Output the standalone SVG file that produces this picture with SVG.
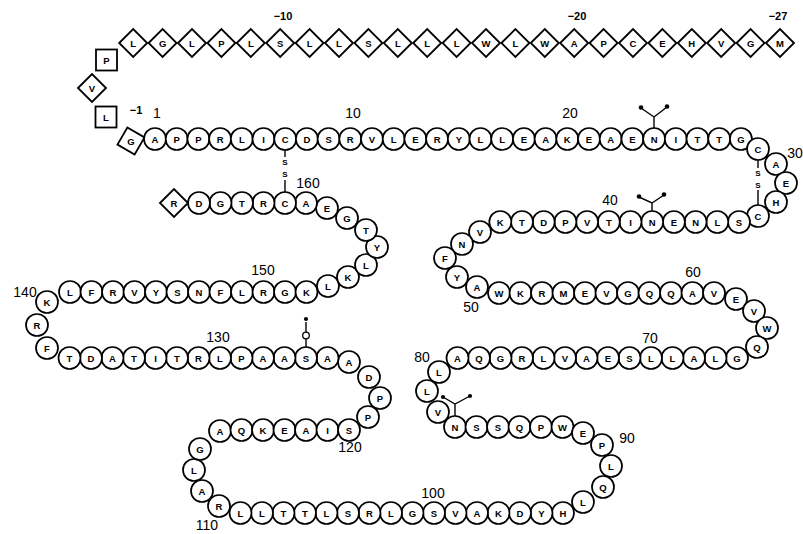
<svg xmlns="http://www.w3.org/2000/svg" xmlns:xlink="http://www.w3.org/1999/xlink" width="803" height="534" viewBox="0 0 803 534">
<style>
.c{fill:#fff;stroke:#000;stroke-width:1.7}
.dm{fill:#fff;stroke:#000;stroke-width:1.8}
.t{font-family:"Liberation Sans",Arial,sans-serif;font-size:9.5px;font-weight:bold;text-anchor:middle;dominant-baseline:central;fill:#000}
.ss{font-family:"Liberation Sans",Arial,sans-serif;font-size:8px;font-weight:bold;text-anchor:middle;dominant-baseline:central;fill:#000}
.n{font-family:"Liberation Sans",Arial,sans-serif;font-size:14px;text-anchor:middle;fill:#000}
.sn{font-family:"Liberation Sans",Arial,sans-serif;font-size:11px;font-weight:bold;text-anchor:middle;fill:#000}
.ln{stroke:#000;stroke-width:1.4;fill:none}
.dot{fill:#000}
</style>
<defs>
<path id="dia" class="dm" d="M-14,0 L0,-14 L14,0 L0,14 Z"/>
<rect id="box" class="dm" x="-10.5" y="-10.5" width="21" height="21"/>
</defs>
<rect width="803" height="534" fill="#fff"/>

<g id="connectors">
<line class="ln" x1="285" y1="150" x2="285" y2="157"/>
<text class="ss" x="285" y="162.5">S</text>
<text class="ss" x="285" y="174.5">S</text>
<line class="ln" x1="285" y1="180" x2="285" y2="192"/>
<line class="ln" x1="758" y1="160" x2="758" y2="168" stroke-width="1"/>
<text class="ss" x="758" y="173">S</text>
<text class="ss" x="758" y="185">S</text>
<line class="ln" x1="758" y1="190" x2="758" y2="205" stroke-width="1"/>
<path class="ln" d="M654,128 V117 M641,108 L654,117 L667,107"/>
<circle class="dot" cx="641" cy="107.5" r="2.3"/><circle class="dot" cx="667" cy="106.5" r="2.3"/>
<path class="ln" d="M652,211 V203 M639,197 L652,203 L664,195"/>
<circle class="dot" cx="639" cy="196.5" r="2.3"/><circle class="dot" cx="664" cy="194.5" r="2.3"/>
<path class="ln" d="M455,416 V404 M443,397 L455,404 L470,396"/>
<circle class="dot" cx="443" cy="397" r="2.1"/><circle class="dot" cx="470" cy="396" r="2.1"/>
<path class="ln" d="M306,347 V339 M306,332 V322"/>
<circle cx="306" cy="335.5" r="3.3" fill="#fff" stroke="#000" stroke-width="1.3"/>
<circle class="dot" cx="306" cy="319" r="2.1"/>
</g>

<g id="labels">
<text class="sn" x="283" y="20">−10</text>
<text class="sn" x="577" y="20">−20</text>
<text class="sn" x="778" y="20">−27</text>
<text class="sn" x="136" y="114" font-size="12">−1</text>
<text class="n" x="157" y="118">1</text>
<text class="n" x="353" y="118">10</text>
<text class="n" x="570" y="118">20</text>
<text class="n" x="795" y="158">30</text>
<text class="n" x="610" y="205">40</text>
<text class="n" x="471" y="312">50</text>
<text class="n" x="693" y="277">60</text>
<text class="n" x="650" y="343">70</text>
<text class="n" x="422" y="362">80</text>
<text class="n" x="627" y="443">90</text>
<text class="n" x="433" y="498">100</text>
<text class="n" x="207" y="530">110</text>
<text class="n" x="350" y="452">120</text>
<text class="n" x="218" y="342">130</text>
<text class="n" x="25" y="297">140</text>
<text class="n" x="263" y="275">150</text>
<text class="n" x="308" y="188">160</text>
</g>

<g id="signal">
<g id="s27"><use xlink:href="#dia" x="780" y="43"/><text class="t" x="780" y="43">M</text></g>
<g id="s26"><use xlink:href="#dia" x="750.6" y="43"/><text class="t" x="750.6" y="43">G</text></g>
<g id="s25"><use xlink:href="#dia" x="721.2" y="43"/><text class="t" x="721.2" y="43">V</text></g>
<g id="s24"><use xlink:href="#dia" x="691.8" y="43"/><text class="t" x="691.8" y="43">H</text></g>
<g id="s23"><use xlink:href="#dia" x="662.4" y="43"/><text class="t" x="662.4" y="43">E</text></g>
<g id="s22"><use xlink:href="#dia" x="633" y="43"/><text class="t" x="633" y="43">C</text></g>
<g id="s21"><use xlink:href="#dia" x="603.6" y="43"/><text class="t" x="603.6" y="43">P</text></g>
<g id="s20"><use xlink:href="#dia" x="574.2" y="43"/><text class="t" x="574.2" y="43">A</text></g>
<g id="s19"><use xlink:href="#dia" x="544.8" y="43"/><text class="t" x="544.8" y="43">W</text></g>
<g id="s18"><use xlink:href="#dia" x="515.4" y="43"/><text class="t" x="515.4" y="43">L</text></g>
<g id="s17"><use xlink:href="#dia" x="486" y="43"/><text class="t" x="486" y="43">W</text></g>
<g id="s16"><use xlink:href="#dia" x="456.6" y="43"/><text class="t" x="456.6" y="43">L</text></g>
<g id="s15"><use xlink:href="#dia" x="427.2" y="43"/><text class="t" x="427.2" y="43">L</text></g>
<g id="s14"><use xlink:href="#dia" x="397.8" y="43"/><text class="t" x="397.8" y="43">L</text></g>
<g id="s13"><use xlink:href="#dia" x="368.4" y="43"/><text class="t" x="368.4" y="43">S</text></g>
<g id="s12"><use xlink:href="#dia" x="339" y="43"/><text class="t" x="339" y="43">L</text></g>
<g id="s11"><use xlink:href="#dia" x="309.6" y="43"/><text class="t" x="309.6" y="43">L</text></g>
<g id="s10"><use xlink:href="#dia" x="280.2" y="43"/><text class="t" x="280.2" y="43">S</text></g>
<g id="s9"><use xlink:href="#dia" x="250.8" y="43"/><text class="t" x="250.8" y="43">L</text></g>
<g id="s8"><use xlink:href="#dia" x="221.4" y="43"/><text class="t" x="221.4" y="43">P</text></g>
<g id="s7"><use xlink:href="#dia" x="192" y="43"/><text class="t" x="192" y="43">L</text></g>
<g id="s6"><use xlink:href="#dia" x="162.6" y="43"/><text class="t" x="162.6" y="43">G</text></g>
<g id="s5"><use xlink:href="#dia" x="133.2" y="43"/><text class="t" x="133.2" y="43">L</text></g>
<g id="s4"><use xlink:href="#box" x="106.5" y="60"/><text class="t" x="106.5" y="60">P</text></g>
<g id="s3"><use xlink:href="#dia" x="92" y="88"/><text class="t" x="92" y="88">V</text></g>
<g id="s2"><use xlink:href="#box" x="106" y="117"/><text class="t" x="106" y="117">L</text></g>
<g id="s1"><path class="dm" d="M0,-14 L14,0 L0,14 L-14,0 Z" transform="translate(131,141) rotate(-15)"/><text class="t" x="131" y="141">G</text></g>
</g>

<g id="mature">
<g id="r1"><circle class="c" cx="155" cy="139" r="11"/><text class="t" x="155" y="139">A</text></g>
<g id="r2"><circle class="c" cx="176.7" cy="139" r="11"/><text class="t" x="176.7" y="139">P</text></g>
<g id="r3"><circle class="c" cx="198.4" cy="139" r="11"/><text class="t" x="198.4" y="139">P</text></g>
<g id="r4"><circle class="c" cx="220.1" cy="139" r="11"/><text class="t" x="220.1" y="139">R</text></g>
<g id="r5"><circle class="c" cx="241.8" cy="139" r="11"/><text class="t" x="241.8" y="139">L</text></g>
<g id="r6"><circle class="c" cx="263.5" cy="139" r="11"/><text class="t" x="263.5" y="139">I</text></g>
<g id="r7"><circle class="c" cx="285.2" cy="139" r="11"/><text class="t" x="285.2" y="139">C</text></g>
<g id="r8"><circle class="c" cx="306.9" cy="139" r="11"/><text class="t" x="306.9" y="139">D</text></g>
<g id="r9"><circle class="c" cx="328.6" cy="139" r="11"/><text class="t" x="328.6" y="139">S</text></g>
<g id="r10"><circle class="c" cx="350.3" cy="139" r="11"/><text class="t" x="350.3" y="139">R</text></g>
<g id="r11"><circle class="c" cx="372" cy="139" r="11"/><text class="t" x="372" y="139">V</text></g>
<g id="r12"><circle class="c" cx="393.7" cy="139" r="11"/><text class="t" x="393.7" y="139">L</text></g>
<g id="r13"><circle class="c" cx="415.4" cy="139" r="11"/><text class="t" x="415.4" y="139">E</text></g>
<g id="r14"><circle class="c" cx="437.1" cy="139" r="11"/><text class="t" x="437.1" y="139">R</text></g>
<g id="r15"><circle class="c" cx="458.8" cy="139" r="11"/><text class="t" x="458.8" y="139">Y</text></g>
<g id="r16"><circle class="c" cx="480.5" cy="139" r="11"/><text class="t" x="480.5" y="139">L</text></g>
<g id="r17"><circle class="c" cx="502.2" cy="139" r="11"/><text class="t" x="502.2" y="139">L</text></g>
<g id="r18"><circle class="c" cx="523.9" cy="139" r="11"/><text class="t" x="523.9" y="139">E</text></g>
<g id="r19"><circle class="c" cx="545.6" cy="139" r="11"/><text class="t" x="545.6" y="139">A</text></g>
<g id="r20"><circle class="c" cx="567.3" cy="139" r="11"/><text class="t" x="567.3" y="139">K</text></g>
<g id="r21"><circle class="c" cx="589" cy="139" r="11"/><text class="t" x="589" y="139">E</text></g>
<g id="r22"><circle class="c" cx="610.7" cy="139" r="11"/><text class="t" x="610.7" y="139">A</text></g>
<g id="r23"><circle class="c" cx="632.4" cy="139" r="11"/><text class="t" x="632.4" y="139">E</text></g>
<g id="r24"><circle class="c" cx="654.1" cy="139" r="11"/><text class="t" x="654.1" y="139">N</text></g>
<g id="r25"><circle class="c" cx="675.8" cy="139" r="11"/><text class="t" x="675.8" y="139">I</text></g>
<g id="r26"><circle class="c" cx="697.5" cy="139" r="11"/><text class="t" x="697.5" y="139">T</text></g>
<g id="r27"><circle class="c" cx="719.2" cy="139" r="11"/><text class="t" x="719.2" y="139">T</text></g>
<g id="r28"><circle class="c" cx="740.9" cy="139" r="11"/><text class="t" x="740.9" y="139">G</text></g>
<g id="r29"><circle class="c" cx="758" cy="149" r="11"/><text class="t" x="758" y="149">C</text></g>
<g id="r30"><circle class="c" cx="776" cy="164" r="11"/><text class="t" x="776" y="164">A</text></g>
<g id="r31"><circle class="c" cx="786" cy="183" r="11"/><text class="t" x="786" y="183">E</text></g>
<g id="r32"><circle class="c" cx="776" cy="202" r="11"/><text class="t" x="776" y="202">H</text></g>
<g id="r33"><circle class="c" cx="758" cy="216" r="11"/><text class="t" x="758" y="216">C</text></g>
<g id="r34"><circle class="c" cx="739" cy="222" r="11"/><text class="t" x="739" y="222">S</text></g>
<g id="r35"><circle class="c" cx="717.3" cy="222" r="11"/><text class="t" x="717.3" y="222">L</text></g>
<g id="r36"><circle class="c" cx="695.6" cy="222" r="11"/><text class="t" x="695.6" y="222">N</text></g>
<g id="r37"><circle class="c" cx="673.9" cy="222" r="11"/><text class="t" x="673.9" y="222">E</text></g>
<g id="r38"><circle class="c" cx="652.2" cy="222" r="11"/><text class="t" x="652.2" y="222">N</text></g>
<g id="r39"><circle class="c" cx="630.5" cy="222" r="11"/><text class="t" x="630.5" y="222">I</text></g>
<g id="r40"><circle class="c" cx="608.8" cy="222" r="11"/><text class="t" x="608.8" y="222">T</text></g>
<g id="r41"><circle class="c" cx="587.1" cy="222" r="11"/><text class="t" x="587.1" y="222">V</text></g>
<g id="r42"><circle class="c" cx="565.4" cy="222" r="11"/><text class="t" x="565.4" y="222">P</text></g>
<g id="r43"><circle class="c" cx="543.7" cy="222" r="11"/><text class="t" x="543.7" y="222">D</text></g>
<g id="r44"><circle class="c" cx="522" cy="222" r="11"/><text class="t" x="522" y="222">T</text></g>
<g id="r45"><circle class="c" cx="500.3" cy="222" r="11"/><text class="t" x="500.3" y="222">K</text></g>
<g id="r46"><circle class="c" cx="480" cy="232" r="11"/><text class="t" x="480" y="232">V</text></g>
<g id="r47"><circle class="c" cx="462" cy="244" r="11"/><text class="t" x="462" y="244">N</text></g>
<g id="r48"><circle class="c" cx="445" cy="258" r="11"/><text class="t" x="445" y="258">F</text></g>
<g id="r49"><circle class="c" cx="457" cy="277" r="11"/><text class="t" x="457" y="277">Y</text></g>
<g id="r50"><circle class="c" cx="477" cy="287" r="11"/><text class="t" x="477" y="287">A</text></g>
<g id="r51"><circle class="c" cx="499" cy="293" r="11"/><text class="t" x="499" y="293">W</text></g>
<g id="r52"><circle class="c" cx="520.5" cy="293" r="11"/><text class="t" x="520.5" y="293">K</text></g>
<g id="r53"><circle class="c" cx="542" cy="293" r="11"/><text class="t" x="542" y="293">R</text></g>
<g id="r54"><circle class="c" cx="563.5" cy="293" r="11"/><text class="t" x="563.5" y="293">M</text></g>
<g id="r55"><circle class="c" cx="585" cy="293" r="11"/><text class="t" x="585" y="293">E</text></g>
<g id="r56"><circle class="c" cx="606.5" cy="293" r="11"/><text class="t" x="606.5" y="293">V</text></g>
<g id="r57"><circle class="c" cx="628" cy="293" r="11"/><text class="t" x="628" y="293">G</text></g>
<g id="r58"><circle class="c" cx="649.5" cy="293" r="11"/><text class="t" x="649.5" y="293">Q</text></g>
<g id="r59"><circle class="c" cx="671" cy="293" r="11"/><text class="t" x="671" y="293">Q</text></g>
<g id="r60"><circle class="c" cx="692.5" cy="293" r="11"/><text class="t" x="692.5" y="293">A</text></g>
<g id="r61"><circle class="c" cx="714" cy="293" r="11"/><text class="t" x="714" y="293">V</text></g>
<g id="r62"><circle class="c" cx="736" cy="299" r="11"/><text class="t" x="736" y="299">E</text></g>
<g id="r63"><circle class="c" cx="754" cy="311" r="11"/><text class="t" x="754" y="311">V</text></g>
<g id="r64"><circle class="c" cx="767" cy="328" r="11"/><text class="t" x="767" y="328">W</text></g>
<g id="r65"><circle class="c" cx="757" cy="347" r="11"/><text class="t" x="757" y="347">Q</text></g>
<g id="r66"><circle class="c" cx="737" cy="358" r="11"/><text class="t" x="737" y="358">G</text></g>
<g id="r67"><circle class="c" cx="715.5" cy="358" r="11"/><text class="t" x="715.5" y="358">L</text></g>
<g id="r68"><circle class="c" cx="694" cy="358" r="11"/><text class="t" x="694" y="358">A</text></g>
<g id="r69"><circle class="c" cx="672.5" cy="358" r="11"/><text class="t" x="672.5" y="358">L</text></g>
<g id="r70"><circle class="c" cx="651" cy="358" r="11"/><text class="t" x="651" y="358">L</text></g>
<g id="r71"><circle class="c" cx="629.5" cy="358" r="11"/><text class="t" x="629.5" y="358">S</text></g>
<g id="r72"><circle class="c" cx="608" cy="358" r="11"/><text class="t" x="608" y="358">E</text></g>
<g id="r73"><circle class="c" cx="586.5" cy="358" r="11"/><text class="t" x="586.5" y="358">A</text></g>
<g id="r74"><circle class="c" cx="565" cy="358" r="11"/><text class="t" x="565" y="358">V</text></g>
<g id="r75"><circle class="c" cx="543.5" cy="358" r="11"/><text class="t" x="543.5" y="358">L</text></g>
<g id="r76"><circle class="c" cx="522" cy="358" r="11"/><text class="t" x="522" y="358">R</text></g>
<g id="r77"><circle class="c" cx="500.5" cy="358" r="11"/><text class="t" x="500.5" y="358">G</text></g>
<g id="r78"><circle class="c" cx="479" cy="358" r="11"/><text class="t" x="479" y="358">Q</text></g>
<g id="r79"><circle class="c" cx="457.5" cy="358" r="11"/><text class="t" x="457.5" y="358">A</text></g>
<g id="r80"><circle class="c" cx="439" cy="372" r="11"/><text class="t" x="439" y="372">L</text></g>
<g id="r81"><circle class="c" cx="427" cy="391" r="11"/><text class="t" x="427" y="391">L</text></g>
<g id="r82"><circle class="c" cx="438" cy="412" r="11"/><text class="t" x="438" y="412">V</text></g>
<g id="r83"><circle class="c" cx="455" cy="427" r="11"/><text class="t" x="455" y="427">N</text></g>
<g id="r84"><circle class="c" cx="476.5" cy="427" r="11"/><text class="t" x="476.5" y="427">S</text></g>
<g id="r85"><circle class="c" cx="498" cy="427" r="11"/><text class="t" x="498" y="427">S</text></g>
<g id="r86"><circle class="c" cx="519.5" cy="427" r="11"/><text class="t" x="519.5" y="427">Q</text></g>
<g id="r87"><circle class="c" cx="541" cy="427" r="11"/><text class="t" x="541" y="427">P</text></g>
<g id="r88"><circle class="c" cx="562.5" cy="427" r="11"/><text class="t" x="562.5" y="427">W</text></g>
<g id="r89"><circle class="c" cx="583" cy="433" r="11"/><text class="t" x="583" y="433">E</text></g>
<g id="r90"><circle class="c" cx="602" cy="445" r="11"/><text class="t" x="602" y="445">P</text></g>
<g id="r91"><circle class="c" cx="611" cy="466" r="11"/><text class="t" x="611" y="466">L</text></g>
<g id="r92"><circle class="c" cx="603" cy="487" r="11"/><text class="t" x="603" y="487">Q</text></g>
<g id="r93"><circle class="c" cx="583" cy="502" r="11"/><text class="t" x="583" y="502">L</text></g>
<g id="r94"><circle class="c" cx="563" cy="513" r="11"/><text class="t" x="563" y="513">H</text></g>
<g id="r95"><circle class="c" cx="541.5" cy="513" r="11"/><text class="t" x="541.5" y="513">Y</text></g>
<g id="r96"><circle class="c" cx="520" cy="513" r="11"/><text class="t" x="520" y="513">D</text></g>
<g id="r97"><circle class="c" cx="498.5" cy="513" r="11"/><text class="t" x="498.5" y="513">K</text></g>
<g id="r98"><circle class="c" cx="477" cy="513" r="11"/><text class="t" x="477" y="513">A</text></g>
<g id="r99"><circle class="c" cx="455.5" cy="513" r="11"/><text class="t" x="455.5" y="513">V</text></g>
<g id="r100"><circle class="c" cx="434" cy="513" r="11"/><text class="t" x="434" y="513">S</text></g>
<g id="r101"><circle class="c" cx="412.5" cy="513" r="11"/><text class="t" x="412.5" y="513">G</text></g>
<g id="r102"><circle class="c" cx="391" cy="513" r="11"/><text class="t" x="391" y="513">L</text></g>
<g id="r103"><circle class="c" cx="369.5" cy="513" r="11"/><text class="t" x="369.5" y="513">R</text></g>
<g id="r104"><circle class="c" cx="348" cy="513" r="11"/><text class="t" x="348" y="513">S</text></g>
<g id="r105"><circle class="c" cx="326.5" cy="513" r="11"/><text class="t" x="326.5" y="513">L</text></g>
<g id="r106"><circle class="c" cx="305" cy="513" r="11"/><text class="t" x="305" y="513">T</text></g>
<g id="r107"><circle class="c" cx="283.5" cy="513" r="11"/><text class="t" x="283.5" y="513">T</text></g>
<g id="r108"><circle class="c" cx="262" cy="513" r="11"/><text class="t" x="262" y="513">L</text></g>
<g id="r109"><circle class="c" cx="240.5" cy="513" r="11"/><text class="t" x="240.5" y="513">L</text></g>
<g id="r110"><circle class="c" cx="219" cy="506" r="11"/><text class="t" x="219" y="506">R</text></g>
<g id="r111"><circle class="c" cx="202" cy="491" r="11"/><text class="t" x="202" y="491">A</text></g>
<g id="r112"><circle class="c" cx="194" cy="470" r="11"/><text class="t" x="194" y="470">L</text></g>
<g id="r113"><circle class="c" cx="200" cy="449" r="11"/><text class="t" x="200" y="449">G</text></g>
<g id="r114"><circle class="c" cx="220" cy="431" r="11"/><text class="t" x="220" y="431">A</text></g>
<g id="r115"><circle class="c" cx="241.5" cy="430" r="11"/><text class="t" x="241.5" y="430">Q</text></g>
<g id="r116"><circle class="c" cx="263" cy="430" r="11"/><text class="t" x="263" y="430">K</text></g>
<g id="r117"><circle class="c" cx="284.5" cy="430" r="11"/><text class="t" x="284.5" y="430">E</text></g>
<g id="r118"><circle class="c" cx="306" cy="430" r="11"/><text class="t" x="306" y="430">A</text></g>
<g id="r119"><circle class="c" cx="327.5" cy="430" r="11"/><text class="t" x="327.5" y="430">I</text></g>
<g id="r120"><circle class="c" cx="349" cy="430" r="11"/><text class="t" x="349" y="430">S</text></g>
<g id="r121"><circle class="c" cx="368" cy="417" r="11"/><text class="t" x="368" y="417">P</text></g>
<g id="r122"><circle class="c" cx="380" cy="398" r="11"/><text class="t" x="380" y="398">P</text></g>
<g id="r123"><circle class="c" cx="369" cy="377" r="11"/><text class="t" x="369" y="377">D</text></g>
<g id="r124"><circle class="c" cx="349" cy="362" r="11"/><text class="t" x="349" y="362">A</text></g>
<g id="r125"><circle class="c" cx="327.5" cy="358" r="11"/><text class="t" x="327.5" y="358">A</text></g>
<g id="r126"><circle class="c" cx="306" cy="358" r="11"/><text class="t" x="306" y="358">S</text></g>
<g id="r127"><circle class="c" cx="284.5" cy="358" r="11"/><text class="t" x="284.5" y="358">A</text></g>
<g id="r128"><circle class="c" cx="263" cy="358" r="11"/><text class="t" x="263" y="358">A</text></g>
<g id="r129"><circle class="c" cx="241.5" cy="358" r="11"/><text class="t" x="241.5" y="358">P</text></g>
<g id="r130"><circle class="c" cx="220" cy="358" r="11"/><text class="t" x="220" y="358">L</text></g>
<g id="r131"><circle class="c" cx="198.5" cy="358" r="11"/><text class="t" x="198.5" y="358">R</text></g>
<g id="r132"><circle class="c" cx="177" cy="358" r="11"/><text class="t" x="177" y="358">T</text></g>
<g id="r133"><circle class="c" cx="155.5" cy="358" r="11"/><text class="t" x="155.5" y="358">I</text></g>
<g id="r134"><circle class="c" cx="134" cy="358" r="11"/><text class="t" x="134" y="358">T</text></g>
<g id="r135"><circle class="c" cx="112.5" cy="358" r="11"/><text class="t" x="112.5" y="358">A</text></g>
<g id="r136"><circle class="c" cx="91" cy="358" r="11"/><text class="t" x="91" y="358">D</text></g>
<g id="r137"><circle class="c" cx="69.5" cy="358" r="11"/><text class="t" x="69.5" y="358">T</text></g>
<g id="r138"><circle class="c" cx="47" cy="348" r="11"/><text class="t" x="47" y="348">F</text></g>
<g id="r139"><circle class="c" cx="37" cy="325" r="11"/><text class="t" x="37" y="325">R</text></g>
<g id="r140"><circle class="c" cx="47" cy="302" r="11"/><text class="t" x="47" y="302">K</text></g>
<g id="r141"><circle class="c" cx="70" cy="292" r="11"/><text class="t" x="70" y="292">L</text></g>
<g id="r142"><circle class="c" cx="91.5" cy="292" r="11"/><text class="t" x="91.5" y="292">F</text></g>
<g id="r143"><circle class="c" cx="113" cy="292" r="11"/><text class="t" x="113" y="292">R</text></g>
<g id="r144"><circle class="c" cx="134.5" cy="292" r="11"/><text class="t" x="134.5" y="292">V</text></g>
<g id="r145"><circle class="c" cx="156" cy="292" r="11"/><text class="t" x="156" y="292">Y</text></g>
<g id="r146"><circle class="c" cx="177.5" cy="292" r="11"/><text class="t" x="177.5" y="292">S</text></g>
<g id="r147"><circle class="c" cx="199" cy="292" r="11"/><text class="t" x="199" y="292">N</text></g>
<g id="r148"><circle class="c" cx="220.5" cy="292" r="11"/><text class="t" x="220.5" y="292">F</text></g>
<g id="r149"><circle class="c" cx="242" cy="292" r="11"/><text class="t" x="242" y="292">L</text></g>
<g id="r150"><circle class="c" cx="263.5" cy="292" r="11"/><text class="t" x="263.5" y="292">R</text></g>
<g id="r151"><circle class="c" cx="285" cy="292" r="11"/><text class="t" x="285" y="292">G</text></g>
<g id="r152"><circle class="c" cx="306.5" cy="292" r="11"/><text class="t" x="306.5" y="292">K</text></g>
<g id="r153"><circle class="c" cx="328" cy="286" r="11"/><text class="t" x="328" y="286">L</text></g>
<g id="r154"><circle class="c" cx="348" cy="277" r="11"/><text class="t" x="348" y="277">K</text></g>
<g id="r155"><circle class="c" cx="366" cy="265" r="11"/><text class="t" x="366" y="265">L</text></g>
<g id="r156"><circle class="c" cx="377" cy="247" r="11"/><text class="t" x="377" y="247">Y</text></g>
<g id="r157"><circle class="c" cx="366" cy="230" r="11"/><text class="t" x="366" y="230">T</text></g>
<g id="r158"><circle class="c" cx="347" cy="218" r="11"/><text class="t" x="347" y="218">G</text></g>
<g id="r159"><circle class="c" cx="327" cy="208" r="11"/><text class="t" x="327" y="208">E</text></g>
<g id="r160"><circle class="c" cx="306" cy="203" r="11"/><text class="t" x="306" y="203">A</text></g>
<g id="r161"><circle class="c" cx="285" cy="203" r="11"/><text class="t" x="285" y="203">C</text></g>
<g id="r162"><circle class="c" cx="263.5" cy="203" r="11"/><text class="t" x="263.5" y="203">R</text></g>
<g id="r163"><circle class="c" cx="242" cy="203" r="11"/><text class="t" x="242" y="203">T</text></g>
<g id="r164"><circle class="c" cx="220.5" cy="203" r="11"/><text class="t" x="220.5" y="203">G</text></g>
<g id="r165"><circle class="c" cx="199" cy="203" r="11"/><text class="t" x="199" y="203">D</text></g>
<g id="r166"><use xlink:href="#dia" x="174" y="203"/><text class="t" x="174" y="203">R</text></g>
</g>
</svg>
